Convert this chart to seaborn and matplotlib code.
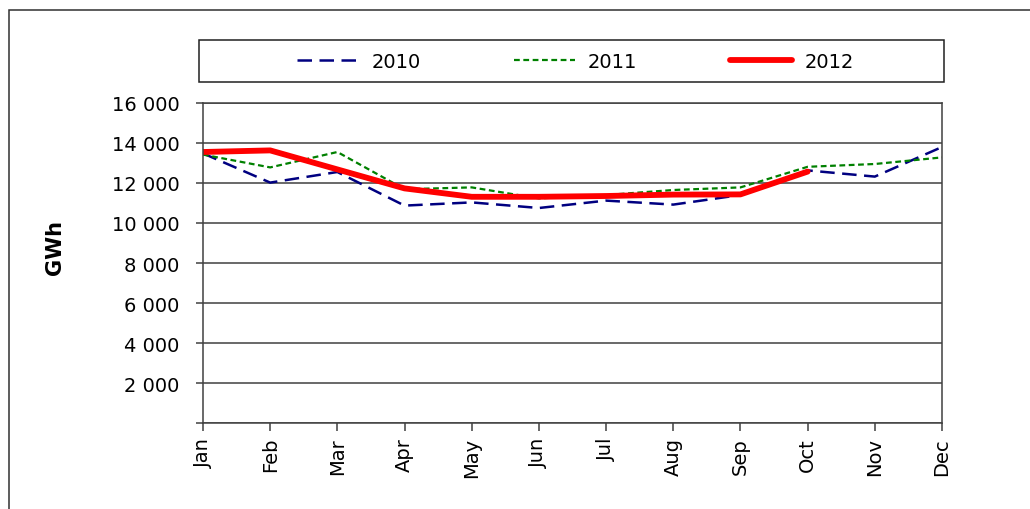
import pandas as pd
import matplotlib
matplotlib.use("Agg")
import matplotlib.pyplot as plt
from matplotlib.patches import Rectangle
from matplotlib.ticker import FuncFormatter
import seaborn as sns

# Monthly electricity consumption (GWh)
months = ['Jan', 'Feb', 'Mar', 'Apr', 'May', 'Jun',
          'Jul', 'Aug', 'Sep', 'Oct', 'Nov', 'Dec']
gwh_2010 = [13480, 12020, 12550, 10870, 11030, 10750,
            11120, 10920, 11400, 12630, 12320, 13800]
gwh_2011 = [13420, 12780, 13550, 11690, 11780, 11230,
            11400, 11650, 11780, 12810, 12950, 13280]
gwh_2012 = [13550, 13630, 12680, 11730, 11310, 11310,
            11350, 11420, 11430, 12570]

series = {'2010': gwh_2010, '2011': gwh_2011, '2012': gwh_2012}
rows = []
for year, vals in series.items():
    for m, v in zip(months, vals):
        rows.append({'Month': m, 'GWh': v, 'Year': year})
df = pd.DataFrame(rows)

sns.set_style("white")
plt.rcParams['font.family'] = ['DejaVu Sans']
plt.rcParams['text.color'] = 'black'
plt.rcParams['xtick.color'] = 'black'
plt.rcParams['ytick.color'] = 'black'
plt.rcParams['axes.labelcolor'] = 'black'

fig = plt.figure(figsize=(10.3, 5.1), dpi=100)
ax = fig.add_axes([203 / 1030, 1 - 424 / 510, 739 / 1030, 320 / 510])

styles = {
    '2010': dict(color='#000080', linewidth=1.8, dashes=(5.8, 3.0)),
    '2011': dict(color='#008000', linewidth=1.6, dashes=(2.6, 1.6)),
    '2012': dict(color='#ff0000', linewidth=4.2),
}
for year, st in styles.items():
    sub = df[df['Year'] == year]
    sns.lineplot(data=sub, x='Month', y='GWh', ax=ax, label=year,
                 solid_capstyle='round', **st)

ax.set_xlim(0, 11)
ax.set_ylim(0, 16000)
ax.set_yticks(range(0, 16001, 2000))
ax.yaxis.set_major_formatter(
    FuncFormatter(lambda v, p: '' if v == 0 else f'{int(v):,}'.replace(',', ' ')))
ax.grid(axis='y', color='#404040', linewidth=1.1)
ax.set_axisbelow(True)
for s in ax.spines.values():
    s.set_color('#404040')
    s.set_linewidth(1.1)

ax.tick_params(axis='y', direction='out', length=5, width=1.1, color='#404040',
               labelcolor='black', labelsize=14, pad=12, left=True)
ax.tick_params(axis='x', direction='out', length=6, width=1.1, color='#404040',
               labelcolor='black', labelsize=14, pad=4, bottom=True)
plt.setp(ax.get_xticklabels(), rotation=90)

ax.set_xlabel('')
ax.set_ylabel('GWh', fontsize=15, fontweight='bold', color='black')
ax.yaxis.set_label_coords(-0.187, 0.553)

# Legend inside its own box above the plot
ax.get_legend().remove()
fig.add_artist(Rectangle((199 / 1030, 1 - 83 / 510), 745 / 1030, 42 / 510,
                         transform=fig.transFigure, fill=False,
                         edgecolor='#202020', linewidth=1.1))
handles, labels = ax.get_legend_handles_labels()
fig.legend(handles, labels, loc='center', bbox_to_anchor=(0.5587, 1 - 62 / 510),
           ncol=3, frameon=False, fontsize=14, handlelength=3.15,
           handletextpad=0.65, columnspacing=4.8, labelcolor='black')

# Outer chart border (cut off on the right and bottom)
fig.add_artist(Rectangle((9 / 1030, -0.5), 2, 0.5 + 1 - 11 / 510,
                         transform=fig.transFigure, fill=False,
                         edgecolor='#303030', linewidth=1.1))

fig.savefig('out.png', dpi=100)
